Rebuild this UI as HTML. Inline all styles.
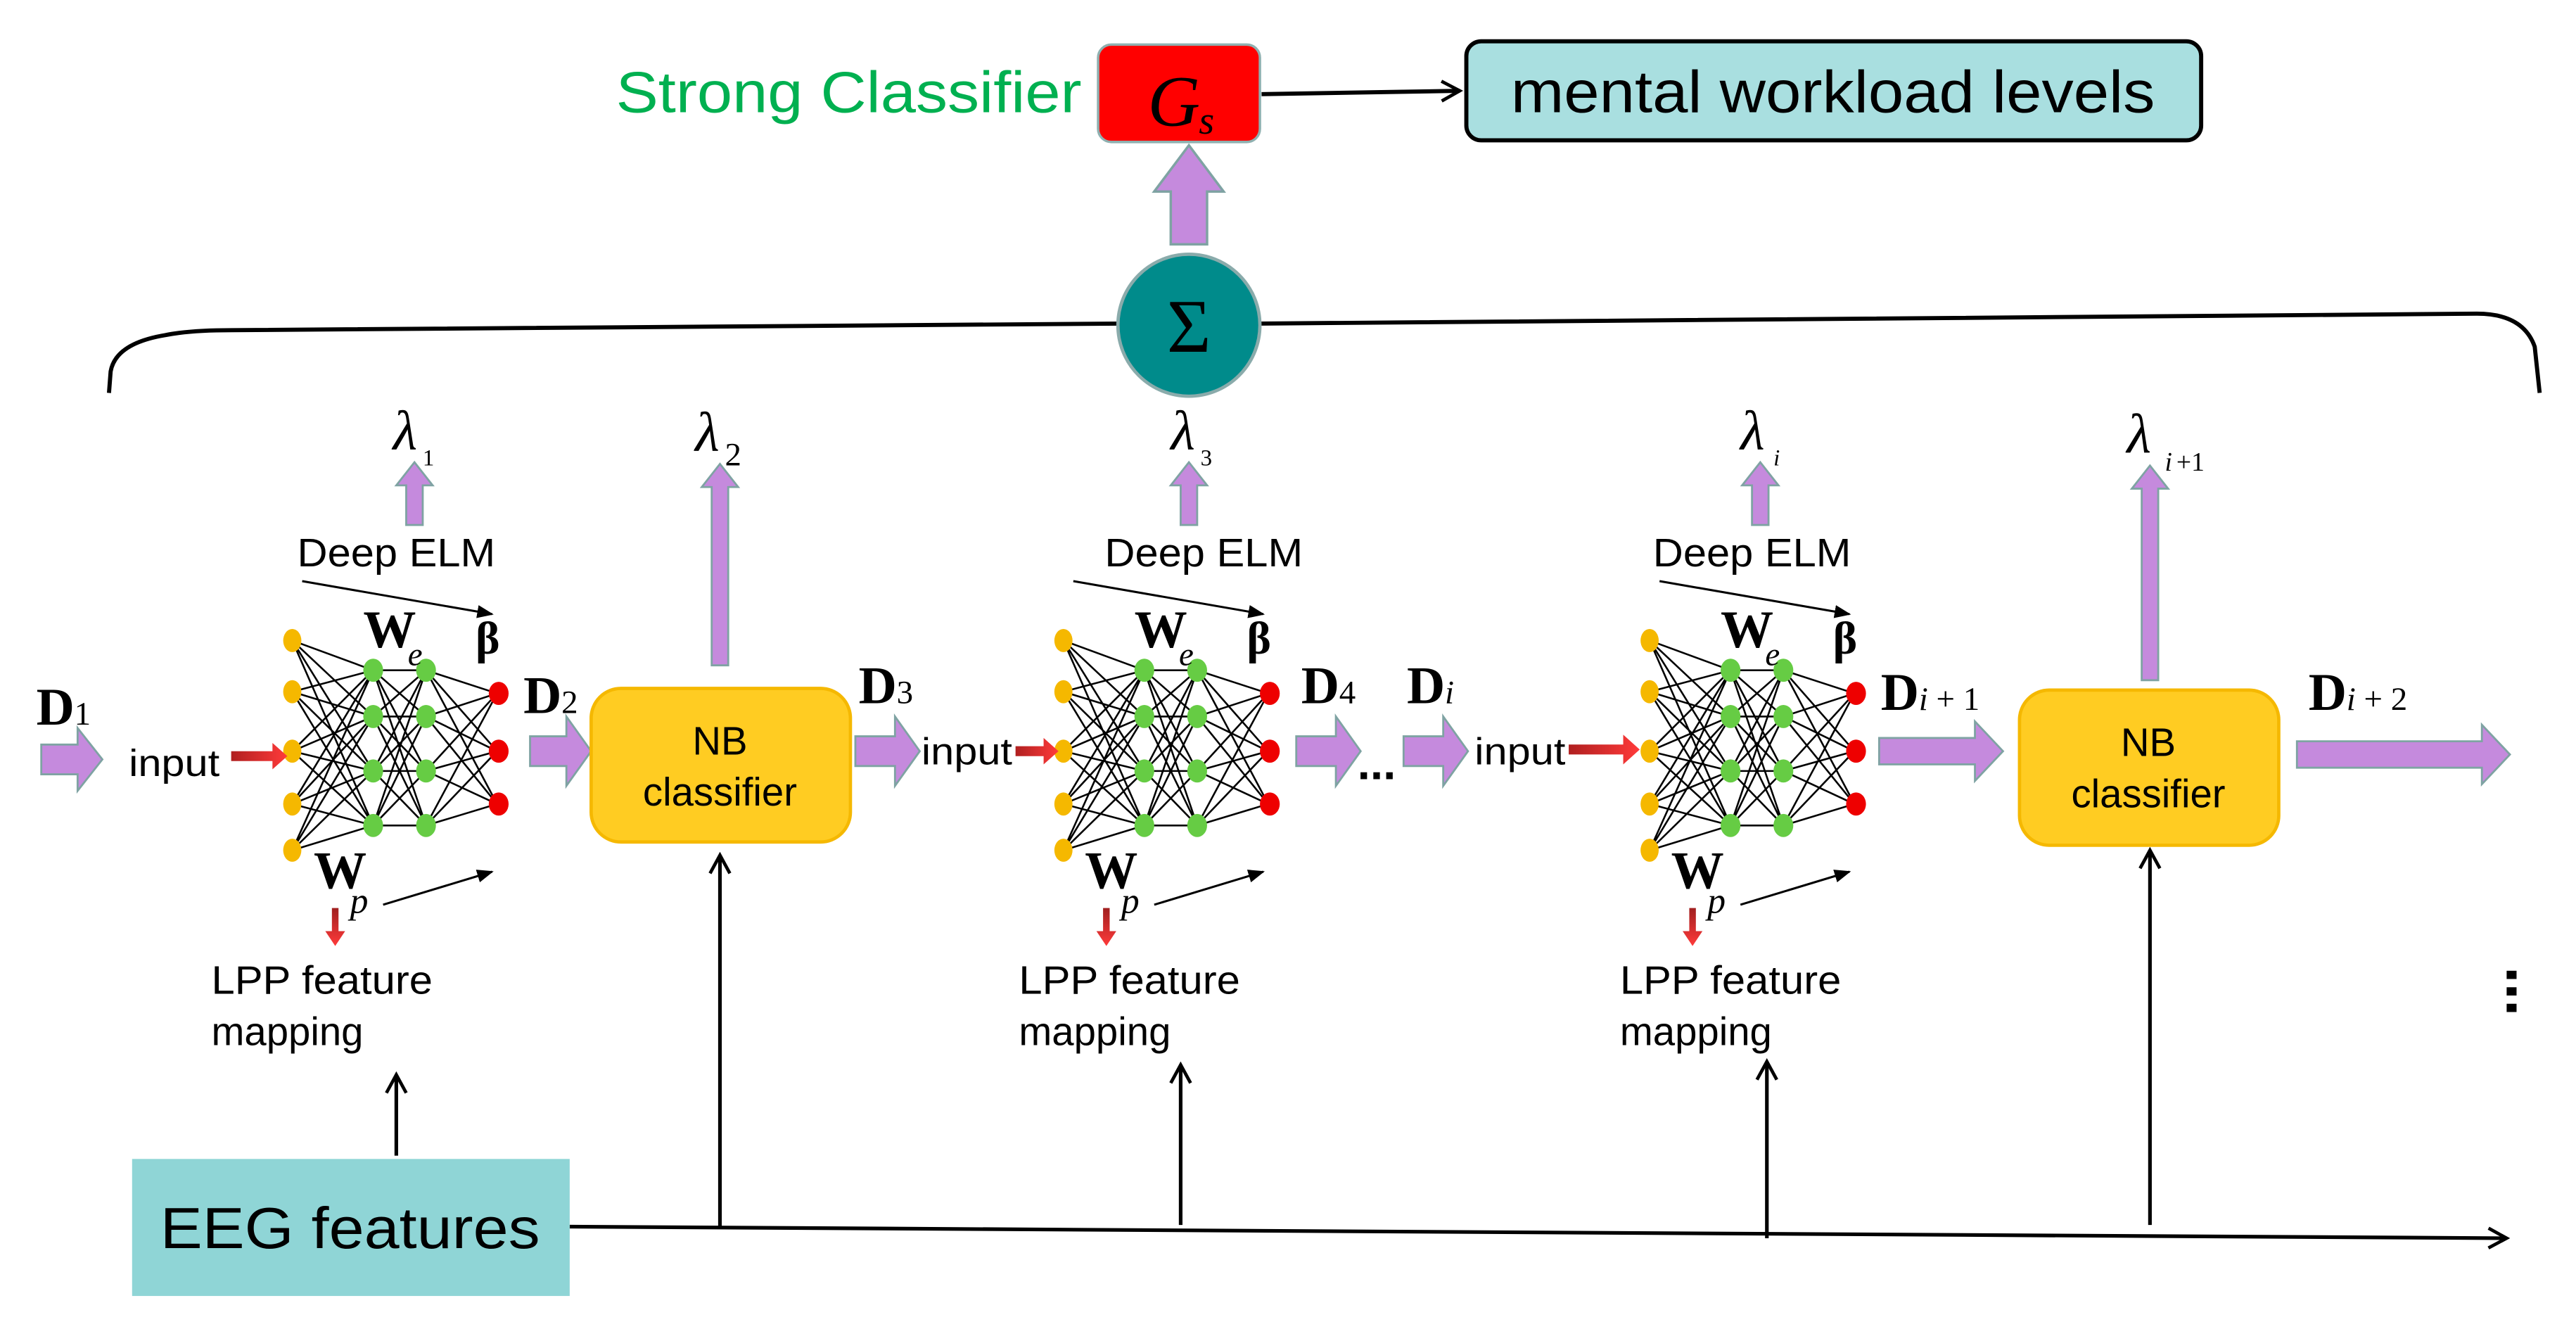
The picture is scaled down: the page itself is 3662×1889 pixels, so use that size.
<!DOCTYPE html>
<html><head><meta charset="utf-8"><style>html,body{margin:0;padding:0;background:#fff}svg{display:block}</style></head>
<body>
<svg width="3662" height="1889" viewBox="0 0 1560 805" preserveAspectRatio="none" xmlns="http://www.w3.org/2000/svg">
<defs>
<linearGradient id="rg" x1="0" x2="1" y1="0" y2="0"><stop offset="0" stop-color="#b02020"/><stop offset="1" stop-color="#ff3a3a"/></linearGradient>
<linearGradient id="rgv" x1="0" x2="0" y1="0" y2="1"><stop offset="0" stop-color="#a02020"/><stop offset="1" stop-color="#ff3a3a"/></linearGradient>
<marker id="ah" markerWidth="10" markerHeight="8" refX="9" refY="4" orient="auto" markerUnits="userSpaceOnUse"><path d="M0,0 L10,4 L0,8 z" fill="#000"/></marker>
<marker id="oa" markerWidth="14" markerHeight="14" refX="12" refY="7" orient="auto" markerUnits="userSpaceOnUse"><path d="M1,1 L12,7 L1,13" fill="none" stroke="#000" stroke-width="2"/></marker>
<g id="net">
<g stroke="#000" stroke-width="1.1" fill="none">
<path d="M177 388L226 406M177 388L226 434M177 388L226 467M177 388L226 500M177 419L226 406M177 419L226 434M177 419L226 467M177 419L226 500M177 455L226 406M177 455L226 434M177 455L226 467M177 455L226 500M177 487L226 406M177 487L226 434M177 487L226 467M177 487L226 500M177 515L226 406M177 515L226 434M177 515L226 467M177 515L226 500"/>
<path d="M226 406L258 406M226 406L258 434M226 406L258 467M226 406L258 500M226 434L258 406M226 434L258 434M226 434L258 467M226 434L258 500M226 467L258 406M226 467L258 434M226 467L258 467M226 467L258 500M226 500L258 406M226 500L258 434M226 500L258 467M226 500L258 500"/>
<path d="M258 406L301 420M258 406L301 455M258 406L301 487M258 434L301 420M258 434L301 455M258 434L301 487M258 467L301 420M258 467L301 455M258 467L301 487M258 500L301 420M258 500L301 455M258 500L301 487"/>
</g>
<g fill="#f5b800"><ellipse cx="177" cy="388" rx="5.5" ry="7"/><ellipse cx="177" cy="419" rx="5.5" ry="7"/><ellipse cx="177" cy="455" rx="5.5" ry="7"/><ellipse cx="177" cy="487" rx="5.5" ry="7"/><ellipse cx="177" cy="515" rx="5.5" ry="7"/></g>
<g fill="#66cc44"><ellipse cx="226" cy="406" rx="6" ry="7"/><ellipse cx="226" cy="434" rx="6" ry="7"/><ellipse cx="226" cy="467" rx="6" ry="7"/><ellipse cx="226" cy="500" rx="6" ry="7"/><ellipse cx="258" cy="406" rx="6" ry="7"/><ellipse cx="258" cy="434" rx="6" ry="7"/><ellipse cx="258" cy="467" rx="6" ry="7"/><ellipse cx="258" cy="500" rx="6" ry="7"/></g>
<g fill="#ee0000"><ellipse cx="302" cy="420" rx="6" ry="7"/><ellipse cx="302" cy="455" rx="6" ry="7"/><ellipse cx="302" cy="487" rx="6" ry="7"/></g>
<line x1="183" y1="352" x2="298" y2="372" stroke="#000" stroke-width="1.3" marker-end="url(#ah)"/>
<line x1="232" y1="548" x2="298" y2="528" stroke="#000" stroke-width="1.3" marker-end="url(#ah)"/>
<path d="M201 550 h4 v14 h4 l-6 9 l-6 -9 h4z" fill="url(#rgv)"/>
</g>
<g id="pu"><path d="M0 0 l11 -14 l11 14 h-6 v24 h-10 v-24z" fill="#c58add" stroke="#7fa3a3" stroke-width="1.2"/></g>
</defs>

<!-- top -->
<text x="373" y="68" font-family="Liberation Sans, sans-serif" font-size="35" fill="#00b050" textLength="282" lengthAdjust="spacingAndGlyphs">Strong Classifier</text>
<rect x="665" y="27" width="98" height="59" rx="8" fill="#ff0000" stroke="#8fb0b0" stroke-width="1.5"/>
<text x="695" y="76" font-family="Liberation Serif, serif" font-style="italic" font-size="44">G</text>
<text x="726" y="81" font-family="Liberation Serif, serif" font-style="italic" font-size="24">s</text>
<line x1="764" y1="57" x2="884" y2="55" stroke="#000" stroke-width="2.5" marker-end="url(#oa)"/>
<rect x="888" y="25" width="445" height="60" rx="9" fill="#a9dfe0" stroke="#000" stroke-width="2.5"/>
<text x="915" y="68" font-family="Liberation Sans, sans-serif" font-size="36" textLength="390" lengthAdjust="spacingAndGlyphs">mental workload levels</text>
<path d="M699 116 l21 -28 l21 28 h-10 v32 h-22 v-32z" fill="#c58add" stroke="#7fa3a3" stroke-width="1.5"/>

<!-- brace -->
<path d="M66 238 L67 225 Q70 208 100 203 Q115 200 140 200 L678 196 M763 196 L1500 190 Q1528 190 1535 210 L1538 238" fill="none" stroke="#000" stroke-width="2.5"/>
<ellipse cx="720" cy="197" rx="43" ry="43" fill="#008b8b" stroke="#8aabab" stroke-width="2"/>
<text x="720" y="213" text-anchor="middle" font-family="Liberation Serif, serif" font-size="46">Σ</text>

<!-- lambdas -->
<g font-family="Liberation Serif, serif" font-style="italic">
<text x="238" y="272" font-size="34">λ</text><text x="256" y="282" font-size="14" font-style="normal">1</text>
<text x="421" y="273" font-size="34">λ</text><text x="439" y="282" font-size="20" font-style="normal">2</text>
<text x="709" y="272" font-size="34">λ</text><text x="727" y="282" font-size="14" font-style="normal">3</text>
<text x="1054" y="272" font-size="34">λ</text><text x="1074" y="282" font-size="14">i</text>
<text x="1288" y="274" font-size="34">λ</text><text x="1311" y="285" font-size="16">i</text><text x="1318" y="285" font-size="16" font-style="normal">+1</text>
</g>
<use href="#pu" x="240" y="294"/>
<use href="#pu" x="709" y="294"/>
<use href="#pu" x="1055" y="294"/>
<path d="M425 295 l11 -14 l11 14 h-6 v108 h-10 v-108z" fill="#c58add" stroke="#7fa3a3" stroke-width="1.2"/>
<path d="M1291 296 l11 -14 l11 14 h-6 v116 h-10 v-116z" fill="#c58add" stroke="#7fa3a3" stroke-width="1.2"/>

<!-- Deep ELM labels -->
<g font-family="Liberation Sans, sans-serif" font-size="24">
<text x="180" y="343" textLength="120" lengthAdjust="spacingAndGlyphs">Deep ELM</text>
<text x="669" y="343" textLength="120" lengthAdjust="spacingAndGlyphs">Deep ELM</text>
<text x="1001" y="343" textLength="120" lengthAdjust="spacingAndGlyphs">Deep ELM</text>
</g>

<!-- networks -->
<use href="#net"/>
<use href="#net" x="467"/>
<use href="#net" x="822"/>

<!-- W and beta labels -->
<g font-family="Liberation Serif, serif">
<g id="wl"><text x="220" y="392" font-size="32" font-weight="bold">W</text><text x="247" y="403" font-size="20" font-style="italic">e</text><text x="288" y="396" font-size="28" font-weight="bold">β</text>
<text x="190" y="538" font-size="32" font-weight="bold">W</text><text x="212" y="553" font-size="22" font-style="italic">p</text></g>
</g>
<use href="#wl" x="467"/>
<use href="#wl" x="822"/>

<!-- D labels -->
<g font-family="Liberation Serif, serif">
<text x="22" y="439" font-size="32" font-weight="bold">D</text><text x="45" y="439" font-size="20">1</text>
<text x="317" y="432" font-size="32" font-weight="bold">D</text><text x="340" y="432" font-size="20">2</text>
<text x="520" y="426" font-size="32" font-weight="bold">D</text><text x="543" y="426" font-size="20">3</text>
<text x="788" y="426" font-size="32" font-weight="bold">D</text><text x="811" y="426" font-size="20">4</text>
<text x="852" y="426" font-size="32" font-weight="bold">D</text><text x="875" y="426" font-size="20" font-style="italic">i</text>
<text x="1139" y="430" font-size="32" font-weight="bold">D</text><text x="1162" y="430" font-size="20"><tspan font-style="italic">i</tspan> + 1</text>
<text x="1398" y="430" font-size="32" font-weight="bold">D</text><text x="1421" y="430" font-size="20"><tspan font-style="italic">i</tspan> + 2</text>
</g>

<!-- purple horizontal arrows -->
<g fill="#c58add" stroke="#7fa3a3" stroke-width="1.2">
<path d="M25 451 h22 v-10 l15 19 l-15 19 v-10 h-22z"/>
<path d="M321 446 h22 v-12 l15 21 l-15 21 v-12 h-22z"/>
<path d="M518 446 h24 v-12 l15 21 l-15 21 v-12 h-24z"/>
<path d="M785 446 h24 v-12 l15 21 l-15 21 v-12 h-24z"/>
<path d="M850 446 h24 v-12 l15 21 l-15 21 v-12 h-24z"/>
<path d="M1138 447 h58 v-10 l17 18 l-17 18 v-10 h-58z"/>
<path d="M1391 449 h112 v-10 l17 18 l-17 18 v-10 h-112z"/>
</g>
<text x="822" y="472" font-family="Liberation Sans, sans-serif" font-size="28" font-weight="bold">...</text>

<!-- input labels and red arrows -->
<g font-family="Liberation Sans, sans-serif" font-size="23">
<text x="78" y="470" textLength="55" lengthAdjust="spacingAndGlyphs">input</text>
<text x="558" y="463" textLength="55" lengthAdjust="spacingAndGlyphs">input</text>
<text x="893" y="463" textLength="55" lengthAdjust="spacingAndGlyphs">input</text>
</g>
<path d="M140 455 h25 v-5 l9 8 l-9 8 v-5 h-25z" fill="url(#rg)"/>
<path d="M615 452 h17 v-5 l9 8 l-9 8 v-5 h-17z" fill="url(#rg)"/>
<path d="M950 451 h33 v-6 l10 9 l-10 9 v-6 h-33z" fill="url(#rg)"/>

<!-- NB boxes -->
<rect x="358" y="417" width="157" height="93" rx="18" fill="#ffcc22" stroke="#f5b800" stroke-width="2"/>
<text x="436" y="457" text-anchor="middle" font-family="Liberation Sans, sans-serif" font-size="24">NB</text>
<text x="436" y="488" text-anchor="middle" font-family="Liberation Sans, sans-serif" font-size="24">classifier</text>
<rect x="1223" y="418" width="157" height="94" rx="18" fill="#ffcc22" stroke="#f5b800" stroke-width="2"/>
<text x="1301" y="458" text-anchor="middle" font-family="Liberation Sans, sans-serif" font-size="24">NB</text>
<text x="1301" y="489" text-anchor="middle" font-family="Liberation Sans, sans-serif" font-size="24">classifier</text>

<!-- LPP labels -->
<g font-family="Liberation Sans, sans-serif" font-size="24">
<text x="128" y="602" textLength="134" lengthAdjust="spacingAndGlyphs">LPP feature</text><text x="128" y="633">mapping</text>
<text x="617" y="602" textLength="134" lengthAdjust="spacingAndGlyphs">LPP feature</text><text x="617" y="633">mapping</text>
<text x="981" y="602" textLength="134" lengthAdjust="spacingAndGlyphs">LPP feature</text><text x="981" y="633">mapping</text>
</g>
<g fill="#000"><rect x="1518" y="588" width="6" height="5"/><rect x="1518" y="598" width="6" height="5"/><rect x="1518" y="608" width="6" height="5"/></g>

<!-- vertical arrows -->
<g stroke="#000" stroke-width="2.2" fill="none">
<line x1="240" y1="700" x2="240" y2="651" marker-end="url(#oa)"/>
<line x1="436" y1="744" x2="436" y2="518" marker-end="url(#oa)"/>
<line x1="715" y1="742" x2="715" y2="645" marker-end="url(#oa)"/>
<line x1="1070" y1="750" x2="1070" y2="643" marker-end="url(#oa)"/>
<line x1="1302" y1="742" x2="1302" y2="515" marker-end="url(#oa)"/>
<line x1="345" y1="743" x2="1518" y2="750" marker-end="url(#oa)"/>
</g>

<rect x="80" y="702" width="265" height="83" fill="#8fd5d6"/>
<text x="97" y="756" font-family="Liberation Sans, sans-serif" font-size="35" textLength="230" lengthAdjust="spacingAndGlyphs">EEG features</text>
</svg>
</body></html>
